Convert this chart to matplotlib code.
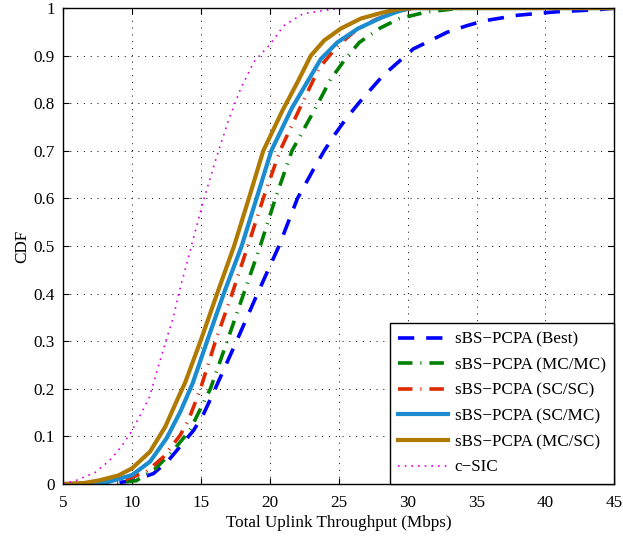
import matplotlib
matplotlib.use("Agg")
import matplotlib.pyplot as plt

# ---- data (x = throughput in Mbps, y = CDF) ----
best_x = [5, 8.5, 10.05, 11.55, 12.65, 14.47, 15.2, 15.95, 17.58, 19.1, 20.66, 22.0, 23.2, 23.94,
          24.68, 25.54, 26.5, 28.2, 29.3, 30.4, 31.6, 32.85, 34.3, 35.5, 38.0, 40.7, 44.0, 45]
best_y = [0, 0.001, 0.007, 0.022, 0.05, 0.113, 0.148, 0.195, 0.3, 0.4, 0.5, 0.6, 0.663, 0.7,
          0.733, 0.768, 0.802, 0.858, 0.886, 0.914, 0.931, 0.949, 0.963, 0.973, 0.985, 0.992, 0.997, 1.0]

mcmc_x = [5, 8.5, 10.3, 11.68, 13.0, 14.2, 14.96, 15.68, 16.9, 18.1, 19.3, 20.4, 21.6, 23.5,
          24.4, 25.5, 26.5, 28.0, 29.4, 31.4, 33.6, 35.0, 45]
mcmc_y = [0, 0.002, 0.007, 0.032, 0.071, 0.113, 0.158, 0.2, 0.3, 0.4, 0.5, 0.6, 0.7, 0.80,
          0.85, 0.894, 0.928, 0.958, 0.978, 0.992, 0.999, 1.0, 1.0]

scsc_x = [5, 7.5, 9.3, 11.0, 12.28, 13.5, 14.1, 14.7, 14.96, 16.05, 17.26, 18.4, 19.52, 20.73,
          22.1, 23.57, 24.9, 26.1, 27.6, 29.4, 30.5, 45]
scsc_y = [0, 0.002, 0.007, 0.025, 0.057, 0.103, 0.135, 0.18, 0.2, 0.3, 0.4, 0.5, 0.6, 0.7,
          0.785, 0.874, 0.92, 0.95, 0.975, 0.995, 1.0, 1.0]

scmc_x = [5, 7.0, 8.35, 10.0, 11.3, 12.5, 13.5, 14.4, 15.44, 16.65, 17.95, 19.03, 20.1, 21.6,
          22.7, 23.7, 24.9, 26.4, 28.1, 29.3, 30.2, 45]
scmc_y = [0, 0.001, 0.005, 0.019, 0.047, 0.096, 0.152, 0.212, 0.3, 0.4, 0.5, 0.6, 0.7, 0.79,
          0.844, 0.893, 0.928, 0.957, 0.98, 0.993, 1.0, 1.0]

mcsc_x = [5, 6.5, 7.67, 9.0, 10.0, 11.3, 12.4, 13.26, 13.86, 14.96, 16.17, 17.4, 18.47, 19.52,
          20.9, 22.0, 22.97, 23.94, 25.15, 26.6, 28.1, 29.2, 30.2, 45]
mcsc_y = [0, 0.002, 0.008, 0.018, 0.033, 0.068, 0.12, 0.176, 0.214, 0.3, 0.4, 0.5, 0.6, 0.7,
          0.784, 0.844, 0.9, 0.932, 0.957, 0.978, 0.99, 0.997, 1.0, 1.0]

csic_x = [5, 5.98, 6.7, 7.3, 8.35, 9.2, 9.93, 10.6, 11.26, 12.17, 12.65, 13.0, 13.38, 14.18,
          14.3, 15.15, 16.1, 17.0, 17.87, 18.84, 20.05, 21.0, 22.4, 23.45, 24.4, 25.6]
csic_y = [0, 0.008, 0.017, 0.024, 0.049, 0.078, 0.109, 0.145, 0.183, 0.273, 0.319, 0.351, 0.4, 0.486,
          0.5, 0.593, 0.684, 0.765, 0.83, 0.887, 0.925, 0.963, 0.988, 0.993, 0.997, 1.0]

labels = ["sBS\u2212PCPA (Best)", "sBS\u2212PCPA (MC/MC)", "sBS\u2212PCPA (SC/SC)",
          "sBS\u2212PCPA (SC/MC)", "sBS\u2212PCPA (MC/SC)", "c\u2212SIC"]
xticks = [5, 10, 15, 20, 25, 30, 35, 40, 45]
yticks = [0, 0.1, 0.2, 0.3, 0.4, 0.5, 0.6, 0.7, 0.8, 0.9, 1]
ytick_labels = ["0", "0.1", "0.2", "0.3", "0.4", "0.5", "0.6", "0.7", "0.8", "0.9", "1"]

plt.rcParams['font.family'] = ['Liberation Serif', 'DejaVu Serif']

FS = 12.3
fig = plt.figure(figsize=(6.23, 5.39), dpi=100)
ax = fig.add_axes([0.1015, 0.102, 0.8845, 0.883])

ax.plot(best_x, best_y, color='#0000ff', lw=2.6, dashes=(4.5, 3.3), label=labels[0])
ax.plot(mcmc_x, mcmc_y, color='#008000', lw=2.6, dashes=(4, 2.2, 0.3, 2.2), label=labels[1])
ax.plot(scsc_x, scsc_y, color='#dd2a00', lw=2.6, dashes=(4, 2.2, 0.3, 2.2), label=labels[2])
ax.plot(scmc_x, scmc_y, color='#1a8ccf', lw=3.0, label=labels[3])
ax.plot(mcsc_x, mcsc_y, color='#b07a00', lw=3.0, label=labels[4])
ax.plot(csic_x, csic_y, color='#dd00dd', lw=1.2, dashes=(1, 3), label=labels[5])

ax.set_xlim(5, 45)
ax.set_ylim(0, 1)
ax.set_xticks(xticks)
ax.set_xticklabels([str(t) for t in xticks])
ax.set_yticks(yticks)
ax.set_yticklabels(ytick_labels)
ax.tick_params(direction='in', top=True, right=True, labelsize=FS, length=4, width=0.8)
ax.tick_params(axis='x', pad=8)
ax.tick_params(axis='y', pad=6)
ax.grid(True, color='black', linestyle=(0, (1, 6)), linewidth=0.7)
for s in ax.spines.values():
    s.set_linewidth(1.0)

ax.set_xlabel("Total Uplink Throughput (Mbps)", fontsize=FS, labelpad=3)
ax.set_ylabel("CDF", fontsize=FS, labelpad=2.5)

leg = ax.legend(loc='lower right', bbox_to_anchor=(1, 0), borderaxespad=0, fontsize=FS,
                handlelength=2.9, handletextpad=0.4, labelspacing=0.56, fancybox=False,
                framealpha=1, edgecolor='black', borderpad=0.5)
leg.get_frame().set_linewidth(1.0)

fig.savefig("out.png", dpi=100)
